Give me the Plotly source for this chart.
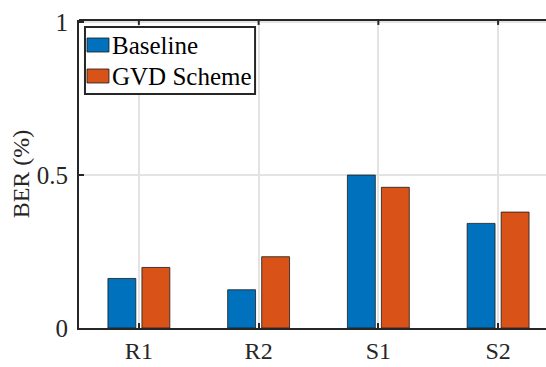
import plotly.graph_objects as go

categories = ["R1", "R2", "S1", "S2"]
baseline = [0.162, 0.125, 0.500, 0.342]
gvd_scheme = [0.198, 0.233, 0.460, 0.379]
y_ticks = [0, 0.5, 1]
y_tick_labels = ["0", "0.5", "1"]
series_names = ["Baseline", "GVD Scheme"]
series_colors = ["#0072BD", "#D95319"]

xpos = [1, 2, 3, 4]
font = "Liberation Serif"
axis_col = "#262626"

fig = go.Figure()
for name, vals, col in zip(series_names, [baseline, gvd_scheme], series_colors):
    fig.add_trace(go.Bar(x=xpos, y=vals, name=name, showlegend=False, hoverinfo="skip",
                         marker=dict(color=col, line=dict(color="#1a1a1a", width=0.8))))

fig.update_layout(
    width=546, height=367,
    margin=dict(l=79, r=0, t=20, b=39),
    paper_bgcolor="white", plot_bgcolor="white",
    barmode="group", bargap=0.432, bargroupgap=0.18,
    font=dict(family=font, size=24, color=axis_col),
    showlegend=False,
)
fig.update_xaxes(
    range=[0.5, 4.40], tickvals=xpos, ticktext=categories, automargin=False,
    showgrid=True, gridcolor="#e3e3e3", gridwidth=2,
    showline=True, linecolor=axis_col, linewidth=2,
    ticks="inside", ticklen=5, tickwidth=2, tickcolor=axis_col,
    tickfont=dict(family=font, size=24, color=axis_col), zeroline=False,
)
fig.update_yaxes(
    range=[0, 1.007], tickvals=y_ticks, ticktext=y_tick_labels, automargin=False,
    showgrid=True, gridcolor="#e3e3e3", gridwidth=2,
    showline=True, linecolor=axis_col, linewidth=2,
    ticks="inside", ticklen=5, tickwidth=2, tickcolor=axis_col, ticklabelstandoff=4,
    tickfont=dict(family=font, size=25, color=axis_col), zeroline=False,
    title=dict(text="BER (%)", font=dict(family=font, size=24, color=axis_col), standoff=0),
)
# top border line with inward ticks (MATLAB box)
fig.add_shape(type="line", xref="paper", yref="paper", x0=0, x1=1, y0=1, y1=1,
              line=dict(color=axis_col, width=2))
for xv in xpos:
    fig.add_shape(type="line", xref="x", yref="paper", x0=xv, x1=xv, y0=1, y1=0.984,
                  line=dict(color=axis_col, width=2))

# MATLAB-style legend box
fig.add_shape(type="rect", xref="paper", yref="paper", x0=0.0128, x1=0.377, y0=0.760, y1=0.977,
              fillcolor="white", line=dict(color=axis_col, width=2), layer="above")
sw_y = [(0.8961, 0.9416), (0.7955, 0.8409)]
txt_y = [0.9188, 0.818]
for name, col, (y0, y1), ty in zip(series_names, series_colors, sw_y, txt_y):
    fig.add_shape(type="rect", xref="paper", yref="paper", x0=0.0171, x1=0.0642, y0=y0, y1=y1,
                  fillcolor=col, line=dict(color="#1a1a1a", width=0.8), layer="above")
    fig.add_annotation(xref="paper", yref="paper", x=0.0664, y=ty, text=name, showarrow=False,
                       xanchor="left", yanchor="middle",
                       font=dict(family=font, size=25, color="black"))

fig.write_html("out.html", config={"displayModeBar": False},
               post_script="document.body.style.margin='0';document.body.style.overflow='hidden';")
